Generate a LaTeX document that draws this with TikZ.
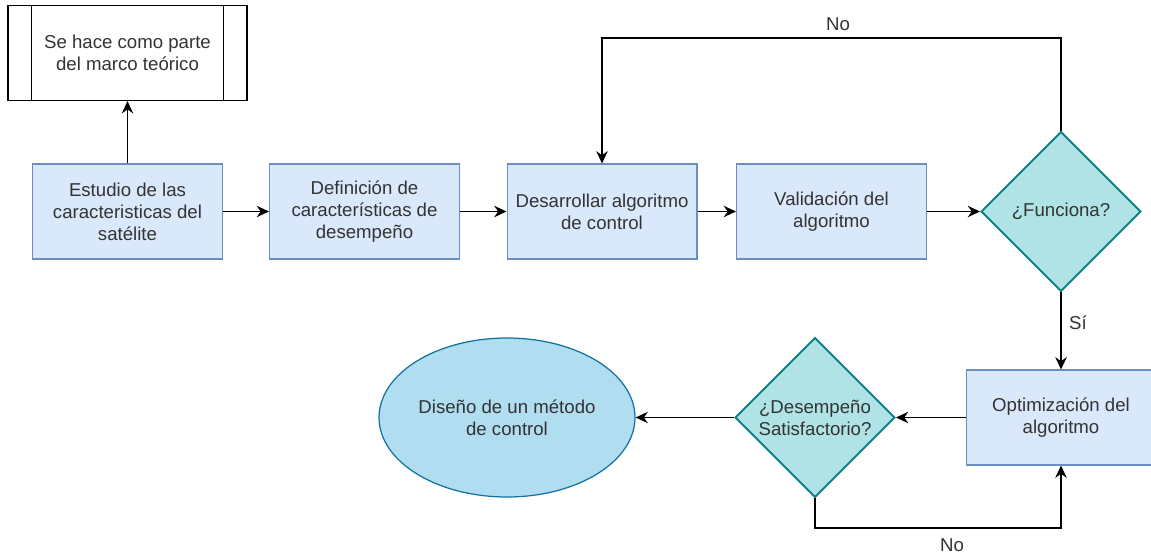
\documentclass[tikz,border=0pt]{standalone}
\usepackage{fontspec}
\setmainfont{Liberation Sans}
\usetikzlibrary{calc,arrows.meta,shapes.geometric}
\definecolor{boxfill}{HTML}{DAE8FC}
\definecolor{boxline}{HTML}{6C8EBF}
\definecolor{diamfill}{HTML}{B0E3E6}
\definecolor{diamline}{HTML}{0E8088}
\definecolor{ovalfill}{HTML}{B1DDF0}
\definecolor{ovalline}{HTML}{10739E}
\definecolor{textgray}{HTML}{333333}
\tikzset{
  txt/.style={text=textgray, font=\fontsize{10.6pt}{12.5pt}\selectfont, align=center},
  paso/.style={txt, draw=boxline, fill=boxfill, line width=0.6pt, minimum width=3.8cm, minimum height=1.9cm, inner sep=0pt},
  pregunta/.style={txt, diamond, aspect=1, draw=diamline, fill=diamfill, line width=1.1pt, minimum width=3.2cm, minimum height=3.2cm, inner sep=0pt},
  flecha/.style={-{Stealth[length=7pt,width=6.5pt]}, line width=0.8pt},
}

\begin{document}
\begin{tikzpicture}[x=0.02cm, y=-0.02cm]
		%%%%% START %%%%%
		\useasboundingbox (0, 0) rectangle (1151, 554);
		
		% proceso predefinido
		\node[txt, draw, line width=0.7pt, minimum width=4.78cm, minimum height=1.9cm, inner sep=0pt] (teoria) at (127.5, 53) {Se hace como parte\\del marco teórico};
		\draw[line width=0.7pt] ($(teoria.north west)+(24, 0)$) -- ($(teoria.south west)+(24, 0)$);
		\draw[line width=0.7pt] ($(teoria.north east)+(-24, 0)$) -- ($(teoria.south east)+(-24, 0)$);
		
		% fila de arriba
		\node[paso] (estudio) at (127.5, 211.5) {Estudio de las\\caracteristicas del\\satélite};
		\node[paso] (definicion) at (364.5, 211.5) {Definición de\\características de\\desempeño};
		\node[paso] (desarrollo) at (602, 211.5) {Desarrollar algoritmo\\de control};
		\node[paso] (validacion) at (831.5, 211.5) {Validación del\\algoritmo};
		\node[pregunta] (funciona) at (1061, 211.5) {¿Funciona?};
		
		% fila de abajo
		\node[paso] (optimizacion) at (1061, 417.5) {Optimización del\\algoritmo};
		\node[pregunta] (satisf) at (815, 417.5) {¿Desempeño\\Satisfactorio?};
		\node[txt, ellipse, draw=ovalline, fill=ovalfill, line width=0.7pt, minimum width=5.12cm, minimum height=3.18cm, inner sep=0pt] (metodo) at (507, 417.5) {Diseño de un método\\de control};
		
		\coordinate (codoArriba) at (1061, 38);
		\coordinate (codoAbajo) at (1061, 528);
		
		\draw[flecha] (estudio.north) -- (teoria.south);
		\draw[flecha] (estudio) -- (definicion);
		\draw[flecha] (definicion) -- (desarrollo);
		\draw[flecha] (desarrollo) -- (validacion);
		\draw[flecha] (validacion) -- (funciona);
		\draw[flecha] (funciona.north) -- (codoArriba) -| (desarrollo.north);
		\draw[flecha] (funciona.south) -- (optimizacion.north);
		\draw[flecha] (optimizacion.west) -- (satisf.east);
		\draw[flecha] (satisf.west) -- (metodo.east);
		\draw[flecha] (satisf.south) |- (codoAbajo) -- (optimizacion.south);
		
		\node[txt] (noArriba) at (838, 24) {No};
		\node[txt] (si) at (1078, 323) {Sí};
		\node[txt] (noAbajo) at (952, 545) {No};
		%%%%% END %%%%%
\end{tikzpicture}
\end{document}
